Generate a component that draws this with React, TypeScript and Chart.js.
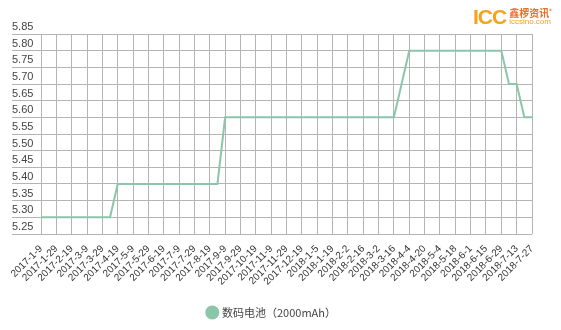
import React, { useEffect, useRef } from "react";
import { Chart, registerables } from "chart.js";

Chart.register(...registerables);

const categories: string[] = [
  "2017-1-9", "2017-1-19", "2017-1-29", "2017-2-9", "2017-2-19", "2017-2-28",
  "2017-3-9", "2017-3-19", "2017-3-29", "2017-4-9", "2017-4-19", "2017-4-28",
  "2017-5-9", "2017-5-19", "2017-5-29", "2017-6-9", "2017-6-19", "2017-6-29",
  "2017-7-9", "2017-7-19", "2017-7-29", "2017-8-9", "2017-8-19", "2017-8-29",
  "2017-9-9", "2017-9-19", "2017-9-29", "2017-10-9", "2017-10-19", "2017-10-30",
  "2017-11-9", "2017-11-19", "2017-11-29", "2017-12-8", "2017-12-19", "2017-12-29",
  "2018-1-5", "2018-1-12", "2018-1-19", "2018-1-26", "2018-2-2", "2018-2-9",
  "2018-2-16", "2018-2-23", "2018-3-2", "2018-3-9", "2018-3-16", "2018-3-23",
  "2018-4-4", "2018-4-13", "2018-4-20", "2018-4-27", "2018-5-4", "2018-5-11",
  "2018-5-18", "2018-5-25", "2018-6-1", "2018-6-8", "2018-6-15", "2018-6-22",
  "2018-6-29", "2018-7-6", "2018-7-13", "2018-7-20", "2018-7-27",
];

const batteryPrices: number[] = [
  5.3, 5.3, 5.3, 5.3, 5.3, 5.3, 5.3, 5.3, 5.3, 5.3,
  5.4, 5.4, 5.4, 5.4, 5.4, 5.4, 5.4, 5.4, 5.4, 5.4, 5.4, 5.4, 5.4, 5.4,
  5.6, 5.6, 5.6, 5.6, 5.6, 5.6, 5.6, 5.6, 5.6, 5.6, 5.6, 5.6, 5.6, 5.6,
  5.6, 5.6, 5.6, 5.6, 5.6, 5.6, 5.6, 5.6, 5.6,
  5.7,
  5.8, 5.8, 5.8, 5.8, 5.8, 5.8, 5.8, 5.8, 5.8, 5.8, 5.8, 5.8, 5.8,
  5.7, 5.7,
  5.6, 5.6,
];

const seriesName = "数码电池（2000mAh）";
const yMin = 5.25;
const yMax = 5.85;
const yStep = 0.05;

const lineColor = "#8cc6aa";
const gridColor = "#b4b4b4";

export default function App() {
  const canvasRef = useRef<HTMLCanvasElement | null>(null);

  useEffect(() => {
    if (!canvasRef.current) return;
    const chart = new Chart(canvasRef.current, {
      type: "line",
      data: {
        labels: categories,
        datasets: [
          {
            label: seriesName,
            data: batteryPrices,
            borderColor: lineColor,
            backgroundColor: lineColor,
            borderWidth: 2,
            pointRadius: 0,
            pointHoverRadius: 0,
            tension: 0,
            fill: false,
          },
        ],
      },
      options: {
        animation: false,
        responsive: true,
        maintainAspectRatio: false,
        layout: { padding: { top: 26, right: 21, left: 4, bottom: 2 } },
        plugins: {
          tooltip: { enabled: false },
          legend: {
            position: "bottom",
            labels: {
              usePointStyle: true,
              pointStyle: "circle",
              boxWidth: 8.5,
              boxHeight: 8.5,
              padding: 10,
              color: "#444",
              font: { size: 11, family: "'Noto Sans CJK SC', 'Noto Sans', sans-serif" },
            },
          },
        },
        scales: {
          x: {
            grid: { color: gridColor, drawTicks: false, lineWidth: 1 },
            border: { display: false },
            afterFit: (s: any) => {
              s.height = 63;
              s.paddingLeft = 0;
              s.paddingRight = 0;
            },
            ticks: {
              autoSkip: false,
              maxRotation: 45,
              minRotation: 45,
              padding: 9,
              color: "#333",
              font: { size: 10, family: "'Liberation Sans', Arial, sans-serif" },
              callback: function (this: any, _v: any, i: number) {
                return i % 2 === 0 ? categories[i] : null;
              },
            },
          },
          y: {
            min: yMin,
            max: yMax,
            grid: { color: gridColor, tickLength: 29, lineWidth: 1 },
            border: { display: false },
            afterFit: (s: any) => {
              s.width = 29;
              s.paddingTop = 0;
              s.paddingBottom = 0;
            },
            ticks: {
              stepSize: yStep,
              crossAlign: "far",
              labelOffset: -7,
              color: "#444",
              font: { size: 11, family: "'Liberation Sans', Arial, sans-serif" },
              callback: (v: any) => Number(v).toFixed(2),
            },
          },
        },
      },
    });
    return () => chart.destroy();
  }, []);

  return (
    <div style={{ position: "relative", width: "545px", height: "322px" }}>
      <canvas ref={canvasRef} />
      <div
        style={{
          position: "absolute",
          left: 465,
          top: -2,
          display: "flex",
          alignItems: "center",
          fontFamily: "'Noto Sans CJK SC', sans-serif",
          pointerEvents: "none",
        }}
      >
        <span
          style={{
            color: "#f5a31a",
            fontWeight: 900,
            fontSize: 21,
            fontFamily: "'Liberation Sans', Arial, sans-serif",
            letterSpacing: -1,
            lineHeight: "22px",
          }}
        >
          ICC
        </span>
        <span style={{ display: "flex", flexDirection: "column", marginLeft: 3, lineHeight: 1 }}>
          <span style={{ color: "#e8702a", fontSize: 10, fontWeight: 700 }}>
            鑫椤资讯<sup style={{ fontSize: 5 }}>®</sup>
          </span>
          <span style={{ color: "#f5a31a", fontSize: 8, fontFamily: "'Liberation Sans', Arial, sans-serif" }}>
            iccsino.com
          </span>
        </span>
      </div>
    </div>
  );
}
